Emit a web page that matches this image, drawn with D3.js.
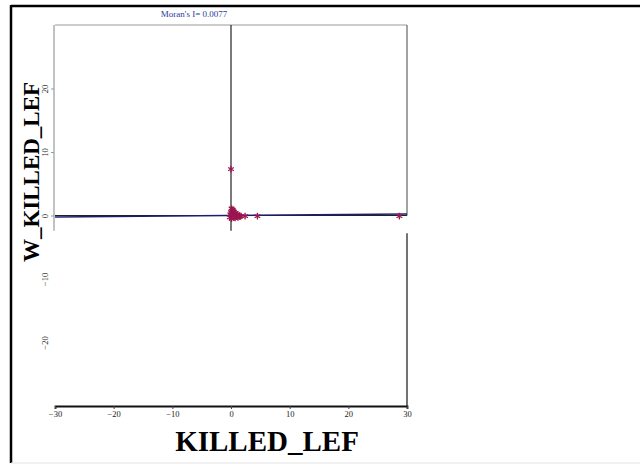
<!DOCTYPE html>
<html>
<head>
<meta charset="utf-8">
<script src="https://cdn.jsdelivr.net/npm/d3@7"></script>
<style>
  html, body { margin: 0; padding: 0; background: #fff; }
  svg { display: block; }
</style>
</head>
<body>
<svg id="chart" width="640" height="464"></svg>
<script>
// Moran scatterplot: standardized KILLED_LEF against its spatial lag
const moransI = 0.0077;
const xTicks = [-30, -20, -10, 0, 10, 20, 30];
const yTicks = [-20, -10, 0, 10, 20];
const killedLef = [0.0, 2.4, 4.5, 28.7, 0.1, 0.3, 0.5, 0.8, 1.1, 1.4, 1.7, 0.2, 0.6, 0.9,
                   1.2, 0.0, 0.4, -0.2, 0.1, 0.7, 1.0, 0.3, -0.1, 1.5, 0.5];
const wKilledLef = [7.3, -0.1, -0.1, -0.1, 1.1, 0.9, 0.6, 0.4, 0.2, 0.0, -0.1, 0.3, 0.1, -0.2,
                    -0.3, 0.5, -0.1, -0.3, -0.5, -0.4, 0.1, 0.7, 0.2, -0.2, -0.3];
const axisCut = -2.4; // lower end of the left axis and vertical zero line

const svg = d3.select("#chart");
const serif = "'Liberation Serif', 'DejaVu Serif', serif";

const x = d3.scaleLinear().domain([-30, 30]).range([55, 407]);
const y = d3.scaleLinear().domain([-30, 30]).range([406, 25]);

// outer frame
svg.append("line").attr("x1", 11).attr("x2", 640).attr("y1", 6).attr("y2", 6)
  .attr("stroke", "#000").attr("stroke-width", 2.5);
svg.append("line").attr("x1", 11).attr("x2", 11).attr("y1", 5).attr("y2", 463)
  .attr("stroke", "#000").attr("stroke-width", 2.5);
svg.append("line").attr("x1", 11).attr("x2", 640).attr("y1", 463).attr("y2", 463)
  .attr("stroke", "#e4e4e4").attr("stroke-width", 1);

// plot border
svg.append("line").attr("x1", x(-30)).attr("x2", x(30)).attr("y1", y(30)).attr("y2", y(30))
  .attr("stroke", "#bbb").attr("stroke-width", 1.5);
svg.append("line").attr("x1", x(-30) - 1).attr("x2", x(-30) - 1).attr("y1", y(30)).attr("y2", y(axisCut))
  .attr("stroke", "#999").attr("stroke-width", 1.2);
svg.append("line").attr("x1", x(30)).attr("x2", x(30)).attr("y1", y(30)).attr("y2", y(0))
  .attr("stroke", "#666").attr("stroke-width", 1.2);
svg.append("line").attr("x1", x(30)).attr("x2", x(30)).attr("y1", y(-2.8)).attr("y2", y(-30))
  .attr("stroke", "#444").attr("stroke-width", 1.5);

// x axis
const xAxis = d3.axisBottom(x).tickValues(xTicks).tickSize(3).tickPadding(2);
const gx = svg.append("g").attr("transform", `translate(0,${y(-30)})`).call(xAxis);
gx.select(".domain").attr("stroke", "#111").attr("stroke-width", 1.8);
gx.selectAll(".tick line").attr("stroke", "#444");
gx.selectAll("text").attr("font-family", serif).attr("font-size", 8.5).attr("fill", "#222");

// y axis (rotated tick labels)
const yAxis = d3.axisLeft(y).tickValues(yTicks).tickSize(3).tickPadding(4);
const gy = svg.append("g").attr("transform", `translate(${x(-30) - 1},0)`).call(yAxis);
gy.select(".domain").remove();
gy.selectAll(".tick line").attr("stroke", "#999")
  .attr("display", d => d >= 0 ? null : "none");
gy.selectAll("text").attr("font-family", serif).attr("font-size", 8.5).attr("fill", "#222")
  .attr("text-anchor", "middle").attr("dy", null)
  .attr("transform", "rotate(-90)")
  .attr("x", 0).attr("y", -6);

// zero lines
svg.append("line").attr("x1", x(0)).attr("x2", x(0)).attr("y1", y(30)).attr("y2", y(axisCut))
  .attr("stroke", "#222").attr("stroke-width", 1.2);
svg.append("line").attr("x1", x(-30)).attr("x2", x(30)).attr("y1", y(0)).attr("y2", y(0))
  .attr("stroke", "#222").attr("stroke-width", 1.2);

// regression line with slope Moran's I
svg.append("line")
  .attr("x1", x(-30)).attr("y1", y(-30 * moransI))
  .attr("x2", x(30)).attr("y2", y(30 * moransI))
  .attr("stroke", "#1a1f6e").attr("stroke-width", 1.6);

// points
const pts = killedLef.map((v, i) => ({ v, w: wKilledLef[i] }));
const star = d3.symbol().type(d3.symbolAsterisk).size(30);
svg.append("g").selectAll("path").data(pts).join("path")
  .attr("transform", d => `translate(${x(d.v)},${y(d.w)})`)
  .attr("d", star)
  .attr("fill", "none")
  .attr("stroke", "#9b1550")
  .attr("stroke-width", 1.3);

// title
svg.append("text").attr("x", 194).attr("y", 17).attr("text-anchor", "middle")
  .attr("font-family", serif).attr("font-size", 9).attr("fill", "#2b3a9a")
  .text(`Moran's I= ${moransI.toFixed(4)}`);

// axis titles
svg.append("text").attr("x", 267).attr("y", 451).attr("text-anchor", "middle")
  .attr("font-family", serif).attr("font-weight", "bold").attr("font-size", 29).attr("fill", "#000")
  .text("KILLED_LEF");
svg.append("text").attr("transform", "translate(39,172) rotate(-90)").attr("text-anchor", "middle")
  .attr("font-family", serif).attr("font-weight", "bold").attr("font-size", 23).attr("fill", "#000")
  .text("W_KILLED_LEF");
</script>
</body>
</html>
